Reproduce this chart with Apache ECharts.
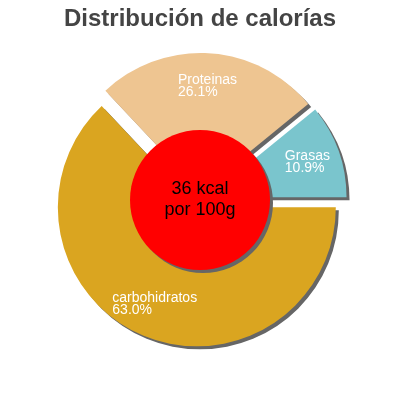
<!DOCTYPE html>
<html>
<head>
<meta charset="utf-8">
<style>
  html, body { margin: 0; padding: 0; background: #fff; }
  #main { width: 400px; height: 400px; }
</style>
<script src="https://cdn.jsdelivr.net/npm/echarts@6/dist/echarts.min.js"></script>
</head>
<body>
<div id="main"></div>
<script>
// datos del gráfico
const categorias = ['carbohidratos', 'Proteinas', 'Grasas'];
const porcentajes = [63.0, 26.1, 10.9];
const textoCentro = ['36 kcal', 'por 100g'];
const titulo = 'Distribución de calorías';

const colores = ['#DAA520', '#EEC591', '#7AC5CD'];
const fuente = 'Liberation Sans';

const chart = echarts.init(document.getElementById('main'), null, { renderer: 'canvas' });

// cada porción va separada del centro (selected)
const datos = categorias.map((nombre, i) => ({
  name: nombre,
  value: porcentajes[i],
  selected: true
}));

const sombra = {
  shadowColor: '#666',
  shadowBlur: 0,
  shadowOffsetX: 3,
  shadowOffsetY: 3
};

chart.setOption({
  animation: false,
  color: colores,
  title: {
    text: titulo,
    left: 'center',
    top: 2,
    textStyle: { fontFamily: fuente, fontSize: 24, fontWeight: 'bold', color: '#444' }
  },
  series: [
    {
      // porciones
      type: 'pie',
      center: [200, 200],
      radius: [0, 139],
      startAngle: 0,
      clockwise: true,
      selectedMode: 'multiple',
      selectedOffset: 8,
      silent: true,
      emphasis: { disabled: true },
      itemStyle: sombra,
      label: { show: false },
      labelLine: { show: false },
      data: datos
    },
    {
      // círculo central
      type: 'pie',
      center: [200, 200],
      radius: [0, 70],
      silent: true,
      emphasis: { disabled: true },
      itemStyle: Object.assign({ color: '#FF0000' }, sombra),
      label: {
        show: true,
        position: 'center',
        formatter: textoCentro.join('\n'),
        fontFamily: fuente,
        fontSize: 18,
        lineHeight: 21,
        color: '#000'
      },
      labelLine: { show: false },
      data: [{ name: 'kcal', value: 1 }]
    },
    {
      // etiquetas (serie transparente)
      type: 'pie',
      center: [200, 200],
      radius: [67, 139],
      startAngle: 0,
      clockwise: true,
      selectedMode: 'multiple',
      selectedOffset: 8,
      silent: true,
      emphasis: { disabled: true },
      itemStyle: { color: 'transparent' },
      label: {
        show: true,
        position: 'inside',
        formatter: p => `{t|${p.name}}\n{t|${p.percent.toFixed(1)}%}`,
        rich: {
          t: { align: 'left', color: '#fff', fontFamily: fuente, fontSize: 14, lineHeight: 12 }
        }
      },
      labelLine: { show: false },
      data: datos
    }
  ]
});
</script>
</body>
</html>
